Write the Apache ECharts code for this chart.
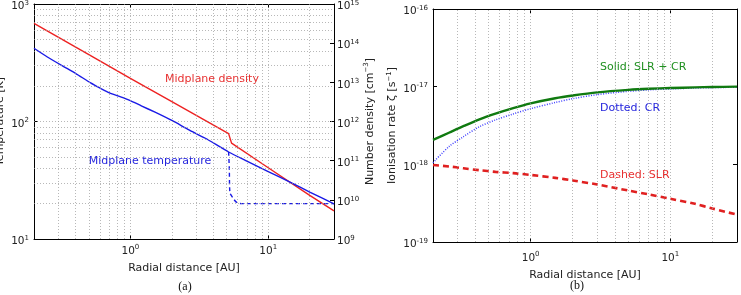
<!DOCTYPE html>
<html>
<head>
    <meta charset="utf-8" />
    <title></title>
    <script src="https://cdn.jsdelivr.net/npm/echarts/dist/echarts.min.js"></script>
    <style>
        html, body { margin: 0; padding: 0; background: #fff; }
        #container { width: 741px; height: 295px; }
    </style>
</head>
<body>
    <div id="container"></div>
    <script>
        // panel (a): temperature [K] and number density [cm^-3] against radius [AU]
        var tempR = [0.2, 0.25, 0.324, 0.4, 0.515, 0.6, 0.706, 0.85, 0.98, 1.2, 1.51, 2.0, 2.66, 3.5, 5.16, 7, 10, 15, 20, 30];
        var tempK = [420, 354, 296, 257, 213, 193, 175, 162, 152, 136, 120, 102, 85, 72, 55, 46, 37.5, 29.7, 25.1, 19.9];
        var tempDashR = [5.16, 5.22, 5.27, 5.57, 5.9, 6.4, 30];
        var tempDashK = [55, 40, 25, 22.2, 20.5, 20, 20];
        var densR = [0.2, 0.5, 1, 2, 5.16, 5.42, 10, 20, 30];
        var densN = [3.2e14, 5.1e13, 1.27e13, 3.2e12, 4.9e11, 2.8e11, 6.6e10, 1.3e10, 5.2e9];

        // panel (b): ionisation rate [s^-1] against radius [AU]
        var ionR = [0.2, 0.26, 0.33, 0.43, 0.56, 0.75, 1, 1.5, 2, 3, 5, 7, 10, 15, 20, 30];
        var ionTotal = [2.06e-18, 2.55e-18, 3.1e-18, 3.8e-18, 4.5e-18, 5.3e-18, 6.1e-18, 7.1e-18, 7.7e-18, 8.45e-18, 9.1e-18, 9.4e-18, 9.6e-18, 9.8e-18, 9.9e-18, 1.0e-17];
        var ionCR = [1.05e-18, 1.69e-18, 2.27e-18, 3.05e-18, 3.73e-18, 4.45e-18, 5.2e-18, 6.25e-18, 7.0e-18, 7.9e-18, 8.7e-18, 9.1e-18, 9.35e-18, 9.6e-18, 9.72e-18, 9.85e-18];
        var ionSLR = [0.98e-18, 0.94e-18, 0.89e-18, 0.84e-18, 0.8e-18, 0.77e-18, 0.73e-18, 0.67e-18, 0.62e-18, 0.55e-18, 0.46e-18, 0.41e-18, 0.36e-18, 0.31e-18, 0.27e-18, 0.225e-18];

        // grid line positions (log ticks)
        var xGrid = [0.3, 0.4, 0.5, 0.6, 0.7, 0.8, 0.9, 1, 2, 3, 4, 5, 6, 7, 8, 9, 10, 20];
        var yGridA = [20, 30, 40, 50, 60, 70, 80, 90, 100, 200, 300, 400, 500, 600, 700, 800, 900];
        var yGridB = [2e-19, 3e-19, 4e-19, 5e-19, 6e-19, 7e-19, 8e-19, 9e-19, 1e-18, 2e-18, 3e-18, 4e-18, 5e-18, 6e-18, 7e-18, 8e-18, 9e-18, 1e-17,
            2e-17, 3e-17, 4e-17, 5e-17, 6e-17, 7e-17, 8e-17, 9e-17];

        var FONT = '"DejaVu Sans", sans-serif';

        function pairs(xs, ys) {
            return xs.map(function (x, i) { return [x, ys[i]]; });
        }

        function powLabel(v) {
            var e = Math.log10(v);
            if (Math.abs(e - Math.round(e)) > 1e-6) return '';
            return '{b|10}{s|' + Math.round(e) + '}';
        }

        var labelRich = {
            b: { fontSize: 10.5, lineHeight: 14, fontFamily: FONT, color: '#222' },
            s: { fontSize: 7, lineHeight: 6, verticalAlign: 'top', fontFamily: FONT, color: '#222' }
        };

        function logX(grid, pos, show, margin) {
            return {
                type: 'log', gridIndex: grid, position: pos, min: 0.2, max: 30,
                axisLine: { show: true, onZero: false, lineStyle: { color: '#000', width: 1 } },
                axisTick: { show: true, inside: true, length: 4, lineStyle: { color: '#000' } },
                axisLabel: { show: show, margin: margin, formatter: powLabel, rich: labelRich },
                splitLine: { show: false }
            };
        }

        function logY(grid, pos, min, max, show, margin) {
            return {
                type: 'log', gridIndex: grid, position: pos, min: min, max: max,
                axisLine: { show: true, onZero: false, lineStyle: { color: '#000', width: 1 } },
                axisTick: { show: true, inside: true, length: 4, lineStyle: { color: '#000' } },
                axisLabel: { show: show, margin: margin, formatter: powLabel, rich: labelRich, padding: [5, 0, 0, 0] },
                splitLine: { show: false }
            };
        }

        function gridSeries(xi, yi, ys) {
            var lines = xGrid.map(function (v) { return { xAxis: v }; })
                .concat(ys.map(function (v) { return { yAxis: v }; }));
            return {
                type: 'line', xAxisIndex: xi, yAxisIndex: yi, data: [], z: 1, silent: true,
                markLine: {
                    silent: true, symbol: 'none', animation: false,
                    label: { show: false },
                    lineStyle: { color: '#999', width: 0.7, type: [1, 2] },
                    data: lines
                }
            };
        }

        var nameStyle = {
            fontSize: 11, fontFamily: FONT, color: '#222', lineHeight: 14,
            rich: { s: { fontSize: 7, lineHeight: 6, verticalAlign: 'top', fontFamily: FONT, color: '#222' } }
        };

        var dom = document.getElementById('container');
        var myChart = echarts.init(dom, null, { renderer: 'canvas' });

        var xa = logX(0, 'bottom', true, 5);
        xa.name = 'Radial distance [AU]';
        xa.nameLocation = 'middle';
        xa.nameGap = 19;
        xa.nameTextStyle = nameStyle;
        var xb = logX(1, 'bottom', true, 9);
        xb.name = 'Radial distance [AU]';
        xb.nameLocation = 'middle';
        xb.nameGap = 20;
        xb.nameTextStyle = nameStyle;

        var ya = logY(0, 'left', 10, 1000, true, 5);
        ya.name = 'Temperature [K]';
        ya.nameLocation = 'middle';
        ya.nameRotate = 90;
        ya.nameGap = 26;
        ya.nameTextStyle = nameStyle;
        var yaR = logY(0, 'right', 1e9, 1e15, true, 3);
        yaR.name = 'Number density [cm{s|−3}]';
        yaR.nameLocation = 'middle';
        yaR.nameRotate = 90;
        yaR.nameGap = 25;
        yaR.nameTextStyle = nameStyle;
        var yb = logY(1, 'left', 1e-19, 1e-16, true, 5);
        yb.name = 'Ionisation rate ζ [s{s|−1}]';
        yb.nameLocation = 'middle';
        yb.nameRotate = 90;
        yb.nameGap = 32;
        yb.nameTextStyle = nameStyle;
        var ybR = logY(1, 'right', 1e-19, 1e-16, false, 3);

        var option = {
            animation: false,
            backgroundColor: '#fff',
            grid: [
                { left: 34, top: 4, width: 300, height: 235, containLabel: false, outerBoundsMode: 'none' },
                { left: 433, top: 9, width: 304, height: 233, containLabel: false, outerBoundsMode: 'none' }
            ],
            xAxis: [xa, xb, logX(0, 'top', false, 2), logX(1, 'top', false, 2)],
            yAxis: [ya, yaR, yb, ybR],
            series: [
                gridSeries(0, 0, yGridA),
                gridSeries(1, 2, yGridB),
                {
                    type: 'line', xAxisIndex: 0, yAxisIndex: 1, z: 3, symbol: 'none',
                    data: pairs(densR, densN),
                    lineStyle: { color: '#ee2222', width: 1.4 }
                },
                {
                    type: 'line', xAxisIndex: 0, yAxisIndex: 0, z: 3, symbol: 'none', smooth: 0.2,
                    data: pairs(tempR, tempK),
                    lineStyle: { color: '#1a1ae6', width: 1.4 }
                },
                {
                    type: 'line', xAxisIndex: 0, yAxisIndex: 0, z: 3, symbol: 'none', smooth: 0.3,
                    data: pairs(tempDashR, tempDashK),
                    lineStyle: { color: '#1a1ae6', width: 1.4, type: [4, 3] }
                },
                {
                    type: 'line', xAxisIndex: 1, yAxisIndex: 2, z: 3, symbol: 'none', smooth: 0.3,
                    data: pairs(ionR, ionCR),
                    lineStyle: { color: '#4040ff', width: 1.5, type: [1, 1.5] }
                },
                {
                    type: 'line', xAxisIndex: 1, yAxisIndex: 2, z: 4, symbol: 'none', smooth: 0.3,
                    data: pairs(ionR, ionTotal),
                    lineStyle: { color: '#107a10', width: 2.4 }
                },
                {
                    type: 'line', xAxisIndex: 1, yAxisIndex: 2, z: 3, symbol: 'none', smooth: 0.3,
                    data: pairs(ionR, ionSLR),
                    lineStyle: { color: '#e02020', width: 2.6, type: [6, 4] }
                }
            ],
            graphic: [
                { type: 'text', x: 212, y: 79, style: { text: 'Midplane density', fill: '#e83030', font: '11px ' + FONT, align: 'center', verticalAlign: 'middle' } },
                { type: 'text', x: 150, y: 161, style: { text: 'Midplane temperature', fill: '#2525dd', font: '11px ' + FONT, align: 'center', verticalAlign: 'middle' } },
                { type: 'text', x: 600, y: 67, style: { text: 'Solid: SLR + CR', fill: '#209020', font: '11px ' + FONT, align: 'left', verticalAlign: 'middle' } },
                { type: 'text', x: 600, y: 108, style: { text: 'Dotted: CR', fill: '#2525dd', font: '11px ' + FONT, align: 'left', verticalAlign: 'middle' } },
                { type: 'text', x: 600, y: 175, style: { text: 'Dashed: SLR', fill: '#e83030', font: '11px ' + FONT, align: 'left', verticalAlign: 'middle' } },
                { type: 'text', x: 185, y: 287, style: { text: '(a)', fill: '#111', font: '12px "Liberation Serif", serif', align: 'center', verticalAlign: 'middle' } },
                { type: 'text', x: 577, y: 286, style: { text: '(b)', fill: '#111', font: '12px "Liberation Serif", serif', align: 'center', verticalAlign: 'middle' } }
            ]
        };

        myChart.setOption(option);
    </script>
</body>
</html>
